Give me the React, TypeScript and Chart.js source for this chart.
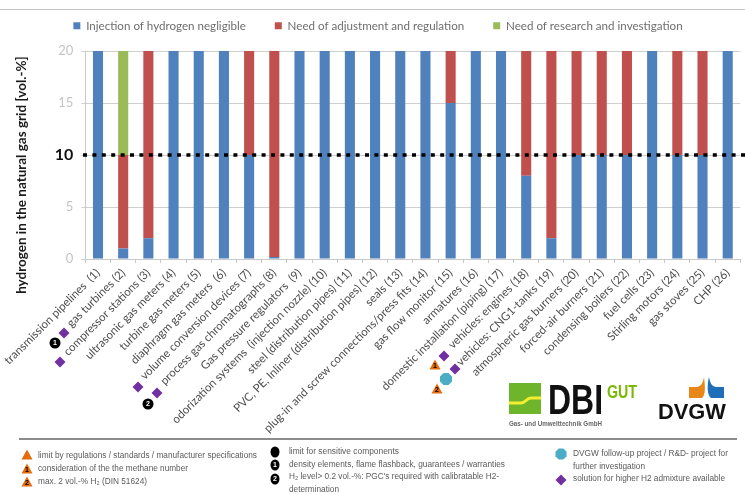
import React, { useEffect, useRef } from "react";
import { Chart, registerables } from "chart.js";

Chart.register(...registerables);

const categories = [
  "transmission pipelines  (1)", "gas turbines (2)", "compressor stations (3)", "ultrasonic gas meters (4)",
  "turbine gas meters (5)", "diaphragm gas meters  (6)", "volume conversion devices (7)",
  "process gas chromatographs (8)", "Gas pressure regulators  (9)", "odorization systems  (injection nozzle) (10)",
  "steel (distribution pipes) (11)", "PVC, PE, Inliner (distribution pipes) (12)", "seals (13)",
  "plug-in and screw connections/press fits (14)", "gas flow monitor (15)", "armatures (16)",
  "domestic installation (piping) (17)", "vehicles: engines (18)", "vehicles: CNG1-tanks (19)",
  "atmospheric gas burners (20)", "forced-air burners (21)", "condensing boilers (22)", "fuel cells (23)",
  "Stirling motors (24)", "gas stoves (25)", "CHP (26)",
];
const negligible = [20, 1, 2, 20, 20, 20, 10, 0.2, 20, 20, 20, 20, 20, 20, 15, 20, 20, 8, 2, 10, 10, 10, 20, 10, 10, 20];
const adjustment = [0, 9, 18, 0, 0, 0, 10, 19.8, 0, 0, 0, 0, 0, 0, 5, 0, 0, 12, 18, 10, 10, 10, 0, 10, 10, 0];
const research = [0, 10, 0, 0, 0, 0, 0, 0, 0, 0, 0, 0, 0, 0, 0, 0, 0, 0, 0, 0, 0, 0, 0, 0, 0, 0];
const seriesNames = ["Injection of hydrogen negligible", "Need of adjustment and regulation", "Need of research and investigation"];
const threshold = 10;
const yAxisTitle = "hydrogen in the natural gas grid [vol.-%]";

const ORANGE = "#E46C0A", PURPLE = "#7030A0", TEAL = "#4BACC6";

function diamond(c: CanvasRenderingContext2D, x: number, y: number, r: number, col = PURPLE) {
  c.fillStyle = col; c.beginPath();
  c.moveTo(x, y - r); c.lineTo(x + r, y); c.lineTo(x, y + r); c.lineTo(x - r, y); c.closePath(); c.fill();
}
function triangle(c: CanvasRenderingContext2D, x: number, y: number, r: number, mark = "") {
  c.fillStyle = ORANGE; c.beginPath();
  c.moveTo(x, y - r); c.lineTo(x + r, y + r * 0.8); c.lineTo(x - r, y + r * 0.8); c.closePath(); c.fill();
  if (mark) {
    c.fillStyle = "#000"; c.font = "bold 7px 'Liberation Sans'"; c.textAlign = "center"; c.textBaseline = "middle";
    c.fillText(mark, x, y + 1);
  }
}
function disc(c: CanvasRenderingContext2D, x: number, y: number, rx: number, ry: number, mark = "") {
  c.fillStyle = "#000"; c.beginPath(); c.ellipse(x, y, rx, ry, 0, 0, Math.PI * 2); c.fill();
  if (mark) {
    c.fillStyle = "#fff"; c.font = "bold 7px 'Liberation Sans'"; c.textAlign = "center"; c.textBaseline = "middle";
    c.fillText(mark, x, y + 0.5);
  }
}
function hexagon(c: CanvasRenderingContext2D, x: number, y: number, r: number) {
  c.fillStyle = TEAL; c.beginPath();
  for (let i = 0; i < 8; i++) {
    const a = Math.PI / 8 + (i * Math.PI) / 4;
    c.lineTo(x + r * Math.cos(a), y + r * Math.sin(a));
  }
  c.closePath(); c.fill();
}
function note(c: CanvasRenderingContext2D, s: string, x: number, y: number, w: number) {
  c.fillStyle = "#5a5a5a"; c.font = "8.5px 'Liberation Sans'"; c.textAlign = "left"; c.textBaseline = "middle";
  c.fillText(s, x, y, w);
}

const overlay = {
  id: "overlay",
  beforeLayout(chart: any) {
    const l = chart.legend;
    if (l && !l.__patched) {
      const fit = l.fit;
      l.fit = function () { fit.call(this); this.height = 60; };
      l.__patched = true;
    }
  },
  afterDatasetsDraw(chart: any) {
    const c: CanvasRenderingContext2D = chart.ctx;
    const yPix = chart.scales.y.getPixelForValue(threshold);
    c.save();
    c.strokeStyle = "#000"; c.lineWidth = 3.6; c.setLineDash([4, 5.4]);
    c.beginPath(); c.moveTo(83, yPix); c.lineTo(745, yPix); c.stroke();
    c.restore();
  },
  afterDraw(chart: any) {
    const c: CanvasRenderingContext2D = chart.ctx;
    c.save();
    // rules
    c.strokeStyle = "#c4c4c4"; c.lineWidth = 1;
    c.beginPath(); c.moveTo(0, 9.5); c.lineTo(745, 9.5); c.stroke();
    c.strokeStyle = "#8c8c8c"; c.lineWidth = 2;
    c.beginPath(); c.moveTo(19, 439); c.lineTo(737, 439); c.stroke();

    // axis title
    c.save();
    c.translate(22, 175); c.rotate(-Math.PI / 2);
    c.fillStyle = "#1a1a1a"; c.font = "bold 13.5px Lato"; c.textAlign = "center"; c.textBaseline = "middle";
    c.fillText(yAxisTitle, 0, 0);
    c.restore();

    // markers by the labels
    disc(c, 55, 343, 5.5, 5.5, "1");
    diamond(c, 64, 333, 5.5);
    diamond(c, 60, 362, 5.5);
    diamond(c, 138, 387, 5.5);
    diamond(c, 157, 393, 5.5);
    disc(c, 148, 404, 5.5, 5.5, "2");
    diamond(c, 444, 356, 5.5);
    triangle(c, 435, 365, 5.5, "1");
    diamond(c, 455, 369, 5.5);
    hexagon(c, 446, 379, 6.5);
    triangle(c, 437, 389, 5.5, "2");

    // DBI logo
    c.fillStyle = "#6FB52C"; c.fillRect(509, 383, 32, 31);
    c.strokeStyle = "#F5EE30"; c.lineWidth = 3; c.beginPath();
    c.moveTo(509, 403); c.lineTo(521, 403); c.bezierCurveTo(526, 403, 526, 398, 531, 398); c.lineTo(541, 398); c.stroke();
    c.fillStyle = "#111"; c.font = "bold 43px 'Liberation Sans'"; c.textAlign = "left"; c.textBaseline = "alphabetic";
    c.fillText("DBI", 548, 414, 55);
    c.fillStyle = "#7AB800"; c.font = "bold 19px 'Liberation Sans'";
    c.fillText("GUT", 607, 398, 30);
    c.fillStyle = "#666"; c.font = "bold 7px 'Liberation Sans'";
    c.fillText("Gas- und Umwelttechnik GmbH", 509, 426, 93);

    // DVGW logo
    c.fillStyle = "#E8861A"; c.beginPath();
    c.moveTo(689, 387); c.lineTo(697, 387); c.bezierCurveTo(702, 386, 703, 382, 704, 377);
    c.bezierCurveTo(705, 385, 706, 395, 702, 398); c.lineTo(689, 398); c.closePath(); c.fill();
    c.fillStyle = "#1F6FB8"; c.beginPath();
    c.moveTo(724, 387); c.lineTo(716, 387); c.bezierCurveTo(711, 386, 710, 382, 709, 377);
    c.bezierCurveTo(707, 385, 707, 395, 711, 398); c.lineTo(724, 398); c.closePath(); c.fill();
    c.fillStyle = "#111"; c.font = "bold 22px 'Liberation Sans'"; c.textBaseline = "alphabetic";
    c.fillText("DVGW", 658, 419, 68);

    // footer key
    triangle(c, 27, 455, 5.5);
    triangle(c, 27, 469, 5.5, "1");
    triangle(c, 27, 482, 5.5, "2");
    note(c, "limit by regulations / standards / manufacturer specifications", 38, 456, 219);
    note(c, "consideration of the the methane number", 38, 469, 150);
    note(c, "max. 2 vol.-% H\u2082 (DIN 51624)", 38, 482, 109);
    disc(c, 275, 452, 4.5, 5.5);
    disc(c, 275, 465, 4.5, 5.5, "1");
    disc(c, 275, 479, 4.5, 5.5, "2");
    note(c, "limit for sensitive components", 289, 452, 110);
    note(c, "density elements, flame flashback, guarantees / warranties", 289, 465, 216);
    note(c, "H\u2082 level> 0.2 vol.-%: PGC's required with calibratable H2-", 289, 477, 210);
    note(c, "determination", 289, 490, 50);
    hexagon(c, 561, 454, 6);
    diamond(c, 561, 480, 5.5);
    note(c, "DVGW follow-up project / R&D- project for", 573, 454, 155);
    note(c, "further investigation", 573, 467, 72);
    note(c, "solution for higher H2 admixture available", 573, 479, 152);
    c.restore();
  },
};

export default function App() {
  const ref = useRef<HTMLCanvasElement>(null);
  useEffect(() => {
    const chart = new Chart(ref.current!, {
      type: "bar",
      data: {
        labels: categories,
        datasets: [
          { label: seriesNames[0], data: negligible, backgroundColor: "#4F81BD" },
          { label: seriesNames[1], data: adjustment, backgroundColor: "#C0504D" },
          { label: seriesNames[2], data: research, backgroundColor: "#9BBB59" },
        ],
      },
      options: {
        responsive: false,
        animation: false,
        layout: { padding: { top: -9, left: 15.7, right: 4.7, bottom: 0 } },
        datasets: { bar: { barPercentage: 0.4, categoryPercentage: 1 } },
        plugins: {
          tooltip: { enabled: false },
          legend: {
            position: "top",
            labels: { boxWidth: 7, boxHeight: 7, padding: 29, color: "#6e6e6e", font: { family: "Lato", size: 11.6 } },
          },
        },
        scales: {
          x: {
            stacked: true,
            afterFit(s: any) { s.height = 235; s.paddingLeft = 0; s.paddingRight = 0; },
            grid: { drawOnChartArea: false, color: "#c9c9c9", tickLength: 4, offset: true },
            border: { color: "#c9c9c9" },
            ticks: {
              autoSkip: false, minRotation: 45, maxRotation: 45, padding: 3,
              color: "#4d4d4d", font: { family: "Lato", size: 11.5 },
            },
          },
          y: {
            stacked: true, min: 0, max: 20,
            afterFit(s: any) { s.width = 69.7; },
            grid: { color: "#cfcfcf", tickLength: 4 },
            border: { color: "#c9c9c9" },
            ticks: {
              stepSize: 5, padding: 8,
              color: (ctx: any) => (ctx.tick?.value === threshold ? "#111" : "#c4c4c4"),
              font: (ctx: any) => (ctx.tick?.value === threshold
                ? { family: "Lato", size: 16, weight: "bold" }
                : { family: "Lato", size: 13 }),
            },
          },
        },
      },
      plugins: [overlay],
    } as any);
    return () => chart.destroy();
  }, []);
  return (
    <div style={{ position: "absolute", left: 0, top: 0, width: 745, height: 494 }}>
      <canvas ref={ref} width={745} height={494} style={{ display: "block", filter: "blur(0.7px)" }} />
    </div>
  );
}
